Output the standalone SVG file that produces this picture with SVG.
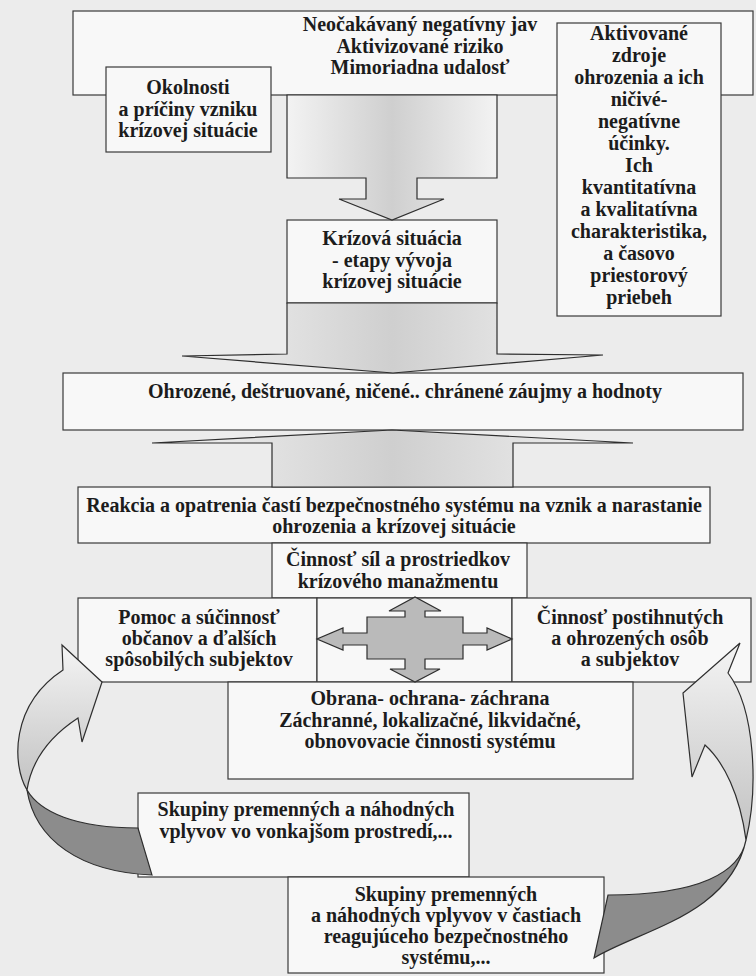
<svg xmlns="http://www.w3.org/2000/svg" width="756" height="976" viewBox="0 0 756 976">
<defs>
<linearGradient id="bodyGrad" x1="0" y1="0" x2="1" y2="0">
<stop offset="0" stop-color="#f3f3f3"/>
<stop offset="0.5" stop-color="#cfcfcf"/>
<stop offset="1" stop-color="#f3f3f3"/>
</linearGradient>
<linearGradient id="ribbonGrad" x1="0" y1="0" x2="0" y2="1">
<stop offset="0" stop-color="#f4f4f4"/>
<stop offset="1" stop-color="#c2c2c2"/>
</linearGradient>
<style>
.box{fill:#f8f8f8;stroke:#3a3a3a;stroke-width:1.2}
.blk{fill:url(#bodyGrad);stroke:#2e2e2e;stroke-width:1.2;stroke-linejoin:miter}
.cross{fill:#bababa;stroke:#2e2e2e;stroke-width:1.2}
.rlight{fill:url(#ribbonGrad);stroke:#2e2e2e;stroke-width:1.2}
.rdark{fill:#8c8c8c;stroke:#2e2e2e;stroke-width:1.2}
text{font-family:"Liberation Serif","Times New Roman",serif;font-weight:bold;font-size:20px;fill:#1c1c1c;text-anchor:middle}
</style>
</defs>
<rect x="0" y="0" width="756" height="976" fill="#ececec"/>

<g id="top-event">
<rect class="box" x="73" y="11" width="680" height="84"/>
<text><tspan x="420" y="31">Neočakávaný negatívny jav</tspan><tspan x="420" y="53">Aktivizované riziko</tspan><tspan x="420" y="74">Mimoriadna udalosť</tspan></text>
</g>

<g id="circumstances">
<rect class="box" x="106" y="67" width="165" height="85"/>
<text><tspan x="188" y="94">Okolnosti</tspan><tspan x="188" y="116">a príčiny vzniku</tspan><tspan x="188" y="137">krízovej situácie</tspan></text>
</g>

<g id="sources">
<rect class="box" x="557" y="23" width="164" height="293"/>
<text><tspan x="639" y="40">Aktivované</tspan><tspan x="639" y="62">zdroje</tspan><tspan x="639" y="84">ohrozenia a ich</tspan><tspan x="639" y="106">ničivé-</tspan><tspan x="639" y="128">negatívne</tspan><tspan x="639" y="150">účinky.</tspan><tspan x="639" y="172">Ich</tspan><tspan x="639" y="194">kvantitatívna</tspan><tspan x="639" y="216">a kvalitatívna</tspan><tspan x="639" y="238">charakteristika,</tspan><tspan x="639" y="260">a časovo</tspan><tspan x="639" y="282">priestorový</tspan><tspan x="639" y="304">priebeh</tspan></text>
</g>

<g id="crisis">
<rect class="box" x="287" y="220" width="210" height="83"/>
<text><tspan x="392" y="245">Krízová situácia</tspan><tspan x="392" y="267">- etapy vývoja</tspan><tspan x="392" y="288">krízovej situácie</tspan></text>
</g>

<g id="values">
<rect class="box" x="63" y="373" width="680" height="57"/>
<text x="405" y="398">Ohrozené, deštruované, ničené.. chránené záujmy a hodnoty</text>
</g>

<g id="reaction">
<rect class="box" x="78" y="487" width="632" height="56"/>
<text><tspan x="394" y="512">Reakcia a opatrenia častí bezpečnostného systému na vznik a narastanie</tspan><tspan x="394" y="533">ohrozenia a krízovej situácie</tspan></text>
</g>

<g id="management">
<rect class="box" x="272" y="543" width="255" height="55"/>
<text><tspan x="398" y="566">Činnosť síl a prostriedkov</tspan><tspan x="398" y="588">krízového manažmentu</tspan></text>
</g>

<g id="citizens">
<rect class="box" x="78" y="598" width="239" height="84"/>
<text><tspan x="199" y="624">Pomoc a súčinnosť</tspan><tspan x="199" y="645">občanov a ďalších</tspan><tspan x="199" y="666">spôsobilých subjektov</tspan></text>
</g>

<g id="center-cell">
<rect class="box" x="317" y="598" width="195" height="84"/>
</g>

<g id="affected">
<rect class="box" x="512" y="598" width="239" height="84"/>
<text><tspan x="630" y="624">Činnosť postihnutých</tspan><tspan x="630" y="645">a ohrozených osôb</tspan><tspan x="630" y="666">a subjektov</tspan></text>
</g>

<g id="defense">
<rect class="box" x="228" y="682" width="405" height="97"/>
<text><tspan x="430" y="705">Obrana- ochrana- záchrana</tspan><tspan x="430" y="727">Záchranné, lokalizačné, likvidačné,</tspan><tspan x="430" y="748">obnovovacie činnosti systému</tspan></text>
</g>

<g id="external">
<rect class="box" x="138" y="793" width="331" height="84"/>
<text><tspan x="306" y="816">Skupiny premenných a náhodných</tspan><tspan x="306" y="838">vplyvov vo vonkajšom prostredí,...</tspan></text>
</g>

<g id="internal">
<rect class="box" x="288" y="877" width="316" height="96"/>
<text><tspan x="446" y="901">Skupiny premenných</tspan><tspan x="446" y="922">a náhodných vplyvov v častiach</tspan><tspan x="446" y="943">reagujúceho bezpečnostného</tspan><tspan x="446" y="964">systému,...</tspan></text>
</g>

<g id="connectors">
<path class="blk" d="M287,95 L497,95 L497,178 L417,178 L417,199 L444,199 L392,220 L339,199 L366,199 L366,178 L287,178 Z"/>
<path class="blk" d="M287,303 L497,303 L497,354 L603,355 L393,373 L182,356 L287,354 Z"/>
<path class="blk" d="M392,430 L633,443 L513,443 L513,487 L272,487 L272,443 L152,443 Z"/>
<path class="cross" d="M367,617 L405,617 L405,611 L389,611 L415,597 L441,611 L425,611 L425,617 L463,617 L463,633 L487,633 L487,628 L512,639 L487,650 L487,645 L463,645 L463,659 L425,659 L425,669 L440,669 L415,682 L390,669 L405,669 L405,659 L367,659 L367,645 L343,645 L343,650 L317,639 L343,628 L343,633 L367,633 Z"/>
<path class="rlight" d="M102,682 L82,742 L78,718 C52,735 32,758 27,790 C12,765 10,705 63,670 L62,645 Z"/>
<path class="rdark" d="M27,790 C40,812 75,828 138,828 L152,875 C80,872 35,840 27,790 Z"/>
<path class="rlight" d="M740,643 L683,693 L692,777 L705,745 C724,762 740,795 746,840 C758,790 756,710 728,673 Z"/>
<path class="rdark" d="M746,840 C740,872 700,895 608,895 L594,958 C640,930 730,915 746,840 Z"/>
</g>
</svg>
